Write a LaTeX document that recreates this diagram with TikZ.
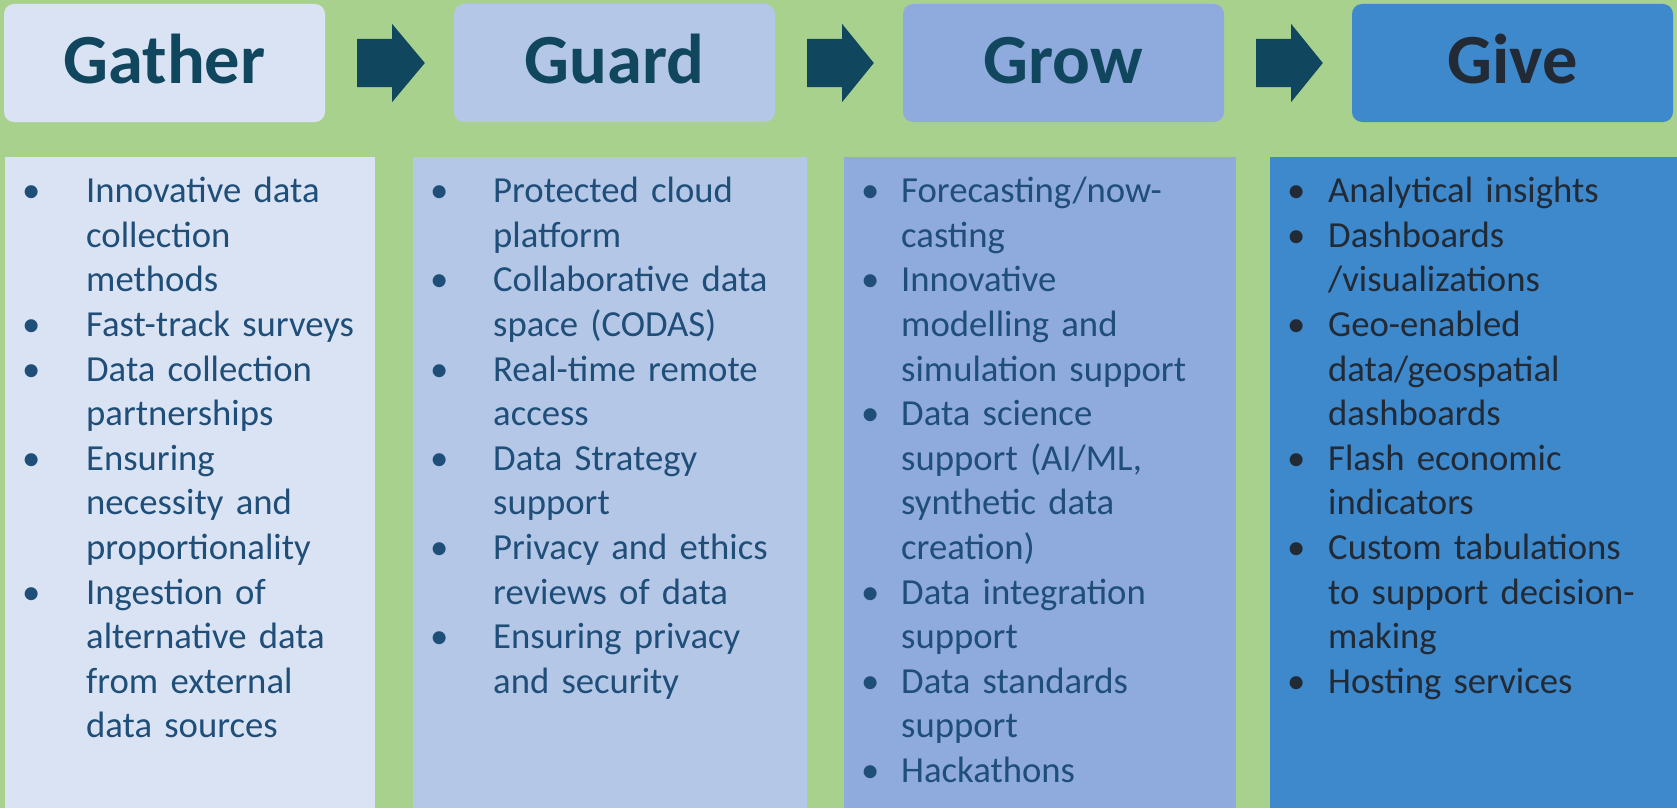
\documentclass[tikz,border=0pt]{standalone}
\usepackage{fontspec}
\setmainfont{Carlito}
\usetikzlibrary{calc}
\definecolor{bgc}{HTML}{A9D18E}
\definecolor{c1}{HTML}{DAE3F3}
\definecolor{c2}{HTML}{B4C7E7}
\definecolor{c3}{HTML}{8FAADC}
\definecolor{c4}{HTML}{3E88CC}
\definecolor{hdrc}{HTML}{10475E}
\definecolor{gvc}{HTML}{222A35}
\definecolor{txtc}{HTML}{1F4E79}
\newlength\bind
\newcommand\bitem[1]{\par\hangindent=\bind\hangafter=1\noindent\strut\makebox[\bind][l]{\textbullet}#1\par}
\newcommand\flowarrow[2]{%
  \fill[arrc] ($(#1.east)+(32,-24)$) -- ($(#1.east)+(67,-24)$) -- ($(#1.east)+(67,-39)$)
    -- ($(#2.west)+(-29,0)$) -- ($(#1.east)+(67,39)$) -- ($(#1.east)+(67,24)$)
    -- ($(#1.east)+(32,24)$) -- cycle;}
\begin{document}
\begin{tikzpicture}[x=1pt,y=-1pt,
  hdr/.style={rounded corners=10pt, minimum width=321pt, minimum height=118pt, inner sep=0pt,
    font=\fontsize{70.5}{80}\selectfont\bfseries, text height=45pt, text depth=5pt, text=hdrc},
  panel/.style={anchor=north west, inner sep=0pt, minimum height=651pt},
  blist/.style={anchor=north west, inner sep=0pt, text width=420pt, align=left,
    font=\fontsize{36.7}{44.6}\selectfont, text=txtc},
  arrc/.style={fill=hdrc}]
\fill[bgc] (0,0) rectangle (1677,808);
\useasboundingbox (0,0) rectangle (1677,808);
% headers
\node[hdr, fill=c1] (gather) at (164.5,63) {Gather};
\node[hdr, fill=c2] (guard) at (614.5,63) {Guard};
\node[hdr, fill=c3] (grow) at (1063.5,63) {Grow};
\node[hdr, fill=c4, text=gvc] (give) at (1512.5,63) {Give};
% arrows
\flowarrow{gather}{guard}
\flowarrow{guard}{grow}
\flowarrow{grow}{give}
% panels
\node[panel, fill=c1, minimum width=370pt] (p1) at (5,157) {};
\node[panel, fill=c2, minimum width=394pt] (p2) at (413,157) {};
\node[panel, fill=c3, minimum width=392pt] (p3) at (844,157) {};
\node[panel, fill=c4, minimum width=410pt] (p4) at (1270,157) {};
% lists
\node[blist] (l1) at ($(p1.north west)+(17,0.9)$) {\setlength\bind{64pt}%
\bitem{Innovative data\newline collection\newline methods}
\bitem{Fast-track surveys}
\bitem{Data collection\newline partnerships}
\bitem{Ensuring\newline necessity and\newline proportionality}
\bitem{Ingestion of\newline alternative data\newline from external\newline data sources}};
\node[blist] (l2) at ($(p2.north west)+(17,0.9)$) {\setlength\bind{63pt}%
\bitem{Protected cloud\newline platform}
\bitem{Collaborative data\newline space (CODAS)}
\bitem{Real-time remote\newline access}
\bitem{Data Strategy\newline support}
\bitem{Privacy and ethics\newline reviews of data}
\bitem{Ensuring privacy\newline and security}};
\node[blist] (l3) at ($(p3.north west)+(17,0.9)$) {\setlength\bind{40pt}%
\bitem{Forecasting/now-\newline casting}
\bitem{Innovative\newline modelling and\newline simulation support}
\bitem{Data science\newline support (AI/ML,\newline synthetic data\newline creation)}
\bitem{Data integration\newline support}
\bitem{Data standards\newline support}
\bitem{Hackathons}};
\node[blist, text=gvc] (l4) at ($(p4.north west)+(17,0.9)$) {\setlength\bind{41pt}%
\bitem{Analytical insights}
\bitem{Dashboards\newline /visualizations}
\bitem{Geo-enabled\newline data/geospatial\newline dashboards}
\bitem{Flash economic\newline indicators}
\bitem{Custom tabulations\newline to support decision-\newline making}
\bitem{Hosting services}};
\end{tikzpicture}
\end{document}
